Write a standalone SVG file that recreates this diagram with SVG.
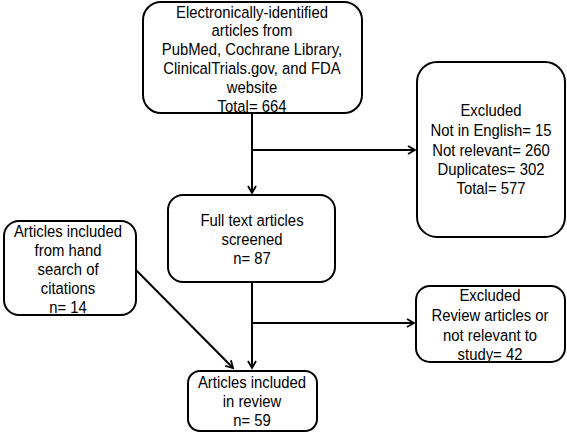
<svg xmlns="http://www.w3.org/2000/svg" width="567" height="433" viewBox="0 0 567 433">
<style>
.box{fill:#fff;stroke:#000;stroke-width:2}
.t{font-family:"Liberation Sans",Arial,sans-serif;font-size:16.5px;fill:#000;text-anchor:middle;dominant-baseline:central}
.c{fill:none;stroke:#000;stroke-width:2}
</style>
<defs>
<marker id="ah" markerWidth="10" markerHeight="10" refX="8" refY="5" orient="auto" markerUnits="userSpaceOnUse">
<path d="M1,1 L8,5 L1,9" fill="none" stroke="#000" stroke-width="1.8"/>
</marker>
</defs>
<rect width="567" height="433" fill="#fff"/>
<g id="connectors">
<path class="c" d="M252,113 V193" marker-end="url(#ah)"/>
<path class="c" d="M252,150 H415" marker-end="url(#ah)"/>
<path class="c" d="M252,282 V368" marker-end="url(#ah)"/>
<path class="c" d="M252,323 H414" marker-end="url(#ah)"/>
<path class="c" d="M136,270 L233,368" marker-end="url(#ah)"/>
</g>
<g id="n1">
<rect class="box" x="143" y="2" width="219" height="111" rx="18"/>
<text class="t" transform="translate(252,12) scale(0.9,1)">Electronically-identified</text>
<text class="t" transform="translate(252,30) scale(0.9,1)">articles from</text>
<text class="t" transform="translate(252,49) scale(0.9,1)">PubMed, Cochrane Library,</text>
<text class="t" transform="translate(252,68) scale(0.9,1)">ClinicalTrials.gov, and FDA</text>
<text class="t" transform="translate(252,87) scale(0.9,1)">website</text>
<text class="t" transform="translate(252,106) scale(0.9,1)">Total= 664</text>
</g>
<g id="n2">
<rect class="box" x="417" y="62" width="148" height="175" rx="20"/>
<text class="t" transform="translate(491,110) scale(0.9,1)">Excluded</text>
<text class="t" transform="translate(491,130) scale(0.9,1)">Not in English= 15</text>
<text class="t" transform="translate(491,150) scale(0.9,1)">Not relevant= 260</text>
<text class="t" transform="translate(491,169) scale(0.9,1)">Duplicates= 302</text>
<text class="t" transform="translate(491,188) scale(0.9,1)">Total= 577</text>
</g>
<g id="n3">
<rect class="box" x="168" y="195" width="167" height="87" rx="15"/>
<text class="t" transform="translate(252,220) scale(0.9,1)">Full text articles</text>
<text class="t" transform="translate(252,239) scale(0.9,1)">screened</text>
<text class="t" transform="translate(252,258) scale(0.9,1)">n= 87</text>
</g>
<g id="n4">
<rect class="box" x="4" y="221" width="132" height="94" rx="15"/>
<text class="t" transform="translate(68,231) scale(0.9,1)">Articles included</text>
<text class="t" transform="translate(68,250) scale(0.9,1)">from hand</text>
<text class="t" transform="translate(68,269) scale(0.9,1)">search of</text>
<text class="t" transform="translate(68,288) scale(0.9,1)">citations</text>
<text class="t" transform="translate(68,307) scale(0.9,1)">n= 14</text>
</g>
<g id="n5">
<rect class="box" x="416" y="286" width="149" height="76" rx="14"/>
<text class="t" transform="translate(490,295) scale(0.9,1)">Excluded</text>
<text class="t" transform="translate(490,315) scale(0.9,1)">Review articles or</text>
<text class="t" transform="translate(490,335) scale(0.9,1)">not relevant to</text>
<text class="t" transform="translate(490,354) scale(0.9,1)">study= 42</text>
</g>
<g id="n6">
<rect class="box" x="188" y="371" width="129" height="60" rx="12"/>
<text class="t" transform="translate(252,382) scale(0.9,1)">Articles included</text>
<text class="t" transform="translate(252,401) scale(0.9,1)">in review</text>
<text class="t" transform="translate(252,420) scale(0.9,1)">n= 59</text>
</g>
</svg>
